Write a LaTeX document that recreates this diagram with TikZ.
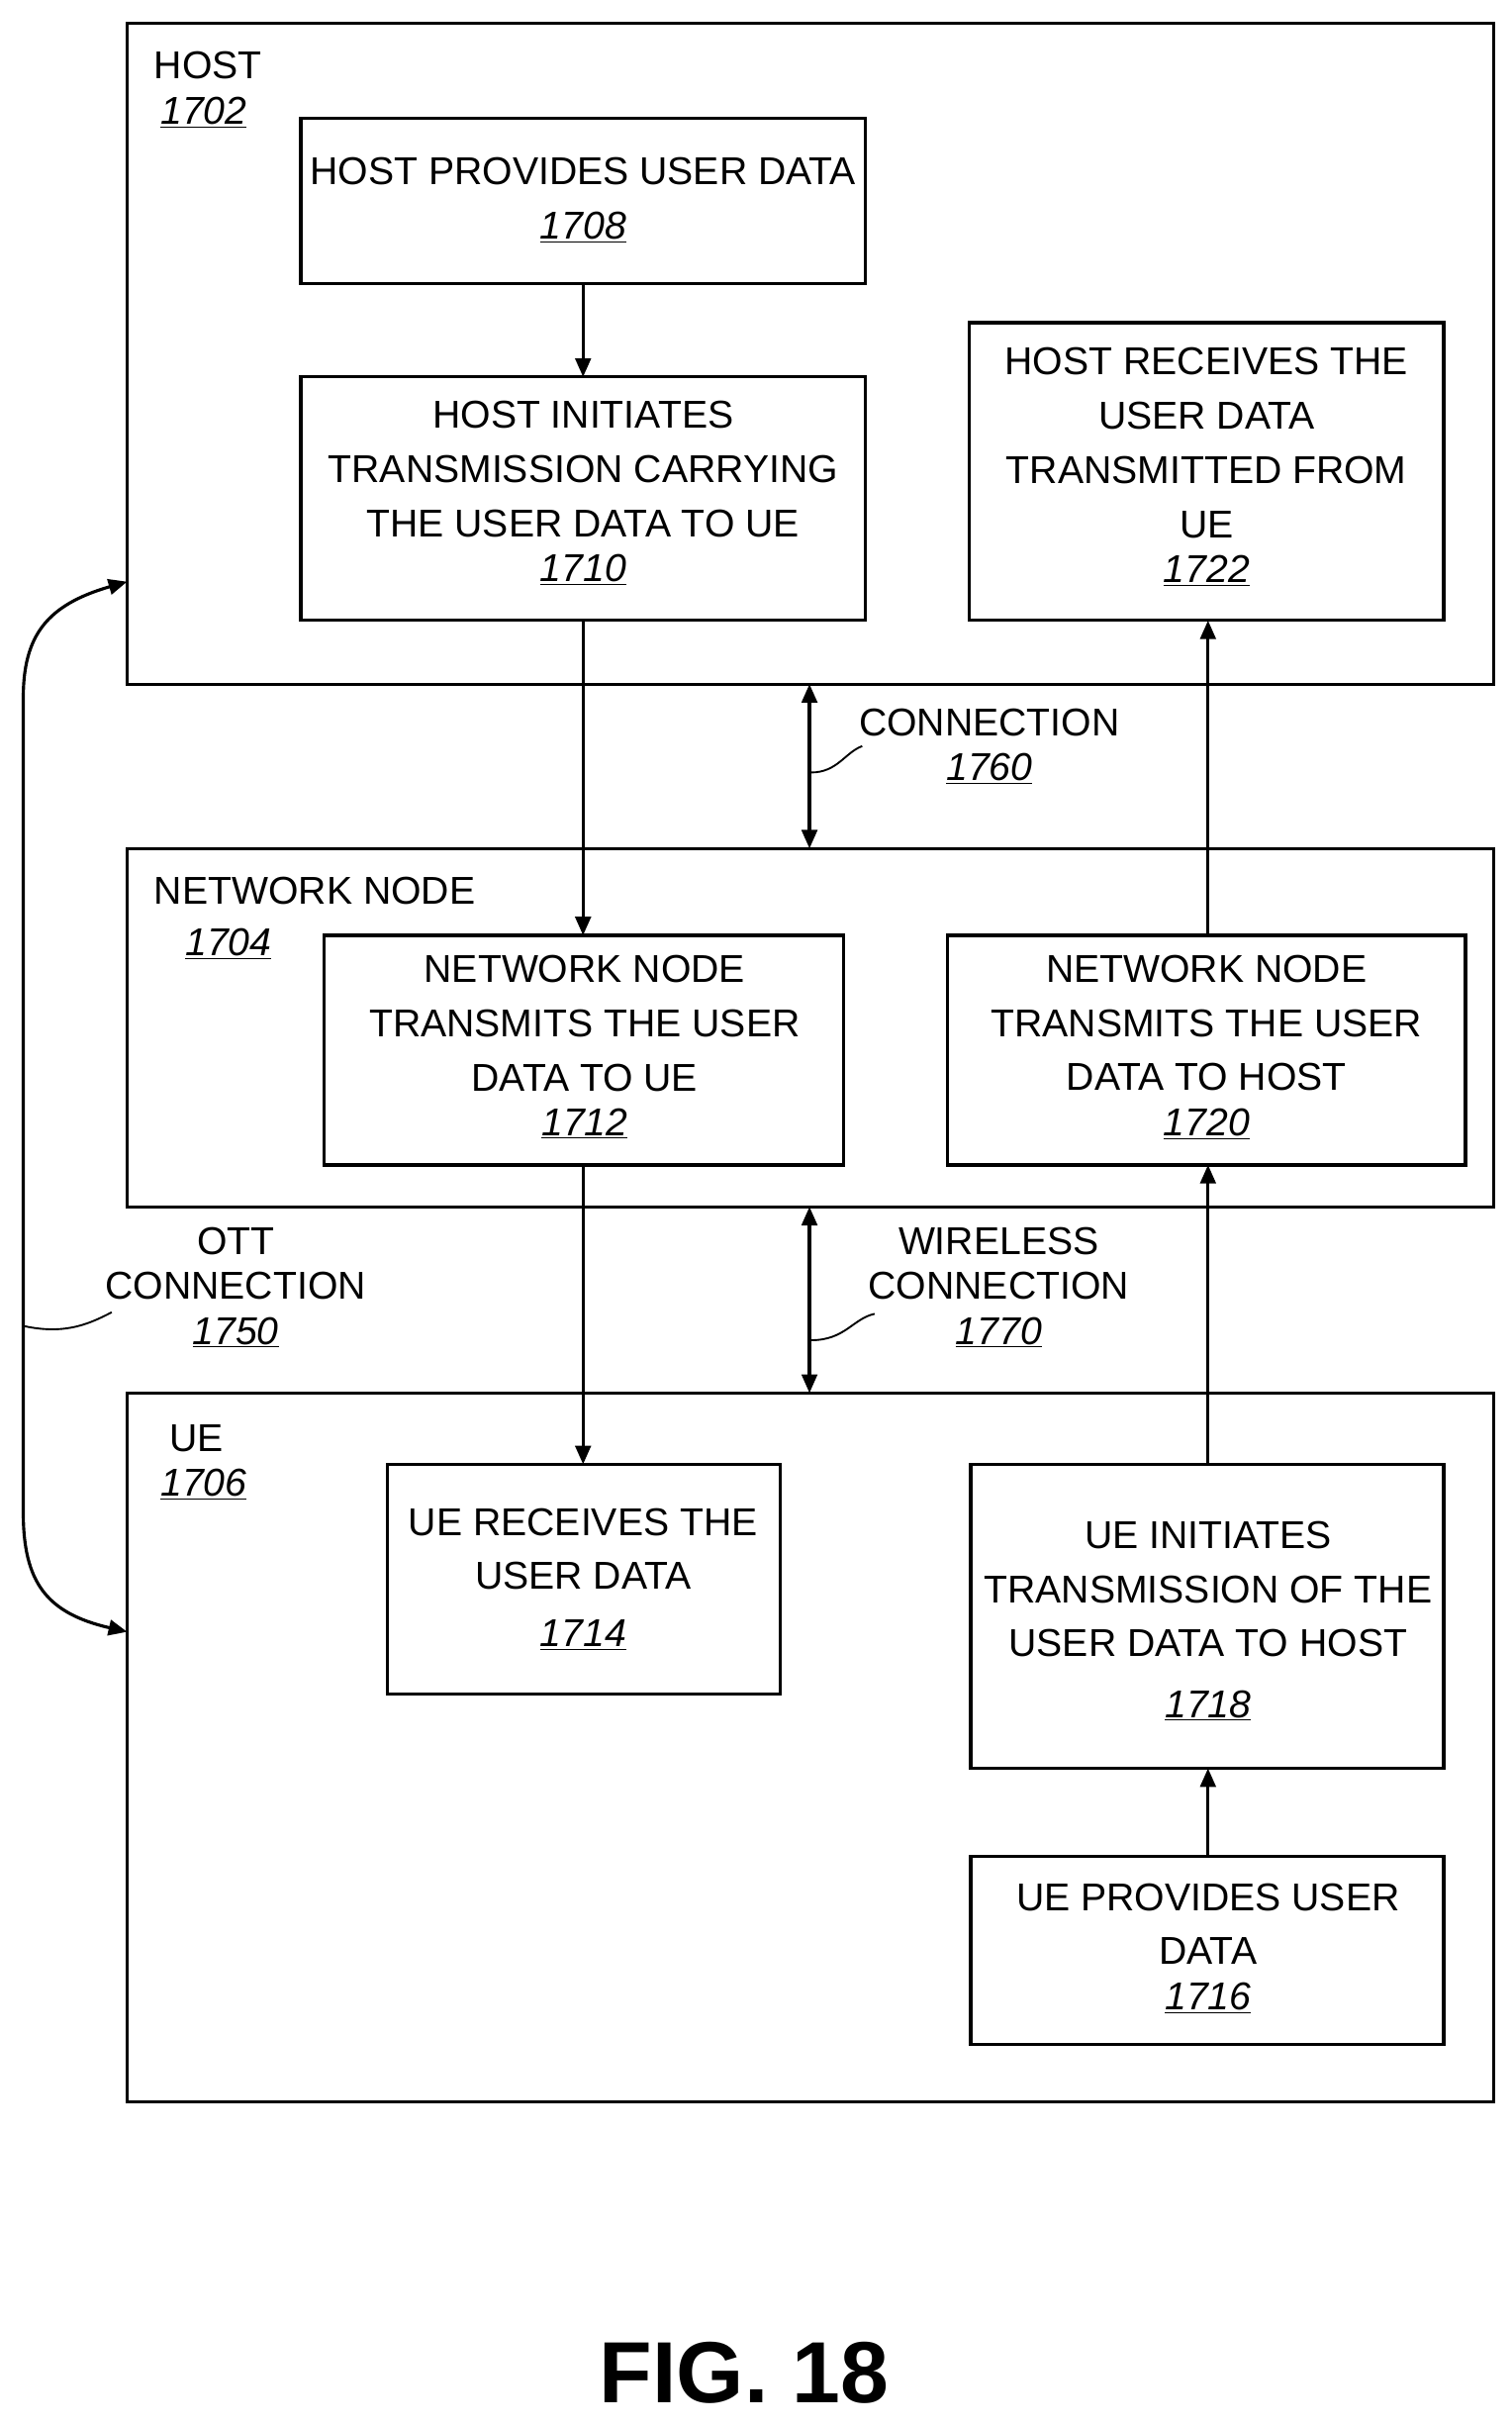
\documentclass[tikz,border=0pt]{standalone}
\usepackage{fontspec}
\setmainfont{Liberation Sans}
\usetikzlibrary{arrows.meta}
\newcommand{\nm}[1]{\underline{\textit{#1}}}
\begin{document}
\begin{tikzpicture}[x=1pt,y=-1pt,
  box/.style={draw,line width=2pt,inner sep=0pt},
  stp/.style={align=center,font=\fontsize{25}{35}\selectfont},
  lbl/.style={align=left,font=\fontsize{25}{33}\selectfont},
  arr/.style={line width=2pt,-{Triangle[length=12pt,width=10pt]}},
  darr/.style={line width=2pt,{Triangle[length=12pt,width=10pt]}-{Triangle[length=12pt,width=10pt]}}]
\useasboundingbox (0,0) rectangle (975,1564);
% containers
\draw[box] (82,15) rectangle (963,441);
\draw[box] (82,547) rectangle (963,778);
\draw[box] (82,898) rectangle (963,1355);
\node[lbl,anchor=north west] (hl) at (96,30) {HOST\\[-4pt]\hspace*{4pt}\nm{1702}};
\node[lbl,anchor=north west] (nl) at (96,562) {NETWORK NODE\\[0pt]\hspace*{20pt}\nm{1704}};
\node[lbl,anchor=north west] (ul) at (100,915) {\hspace*{6pt}UE\\[-4pt]\nm{1706}};
% step boxes
\draw[box] (194,76) rectangle (558,183);
\node[stp] (b1708) at (376,129) {HOST PROVIDES USER DATA\\\nm{1708}};
\draw[box] (194,243) rectangle (558,400);
\node[stp] (b1710) at (376,318) {HOST INITIATES\\TRANSMISSION CARRYING\\THE USER DATA TO UE\\[-6pt]\nm{1710}};
\draw[box] (625,208) rectangle (931,400);
\node[stp] (b1722) at (778,301) {HOST RECEIVES THE\\USER DATA\\TRANSMITTED FROM\\UE\\[-6pt]\nm{1722}};
\draw[box] (209,603) rectangle (544,751);
\node[stp] (b1712) at (377,675) {NETWORK NODE\\TRANSMITS THE USER\\DATA TO UE\\[-6pt]\nm{1712}};
\draw[box] (611,603) rectangle (945,751);
\node[stp] (b1720) at (778,675) {NETWORK NODE\\TRANSMITS THE USER\\DATA TO HOST\\[-6pt]\nm{1720}};
\draw[box] (250,944) rectangle (503,1092);
\node[stp] (b1714) at (376,1018) {UE RECEIVES THE\\USER DATA\\[2pt]\nm{1714}};
\draw[box] (626,944) rectangle (931,1140);
\node[stp] (b1718) at (779,1045) {UE INITIATES\\TRANSMISSION OF THE\\USER DATA TO HOST\\[4pt]\nm{1718}};
\draw[box] (626,1197) rectangle (931,1318);
\node[stp] (b1716) at (779,1256) {UE PROVIDES USER\\DATA\\[-6pt]\nm{1716}};
% coordinates
\coordinate (a1) at (376,183); \coordinate (a2) at (376,243);
\coordinate (a3) at (376,400); \coordinate (a4) at (376,603);
\coordinate (a5) at (376,751); \coordinate (a6) at (376,944);
\coordinate (c1) at (779,1197); \coordinate (c2) at (779,1140);
\coordinate (c3) at (779,944); \coordinate (c4) at (779,751);
\coordinate (c5) at (779,603); \coordinate (c6) at (779,400);
\draw[arr] (a1) -- (a2); \draw[arr] (a3) -- (a4); \draw[arr] (a5) -- (a6);
\draw[arr] (c1) -- (c2); \draw[arr] (c3) -- (c4); \draw[arr] (c5) -- (c6);
% connections
\coordinate (k1) at (522,441); \coordinate (k2) at (522,547);
\coordinate (w1) at (522,778); \coordinate (w2) at (522,898);
\draw[darr] (k1) -- (k2); \draw[darr] (w1) -- (w2);
\node[stp] (conn) at (638,481) {CONNECTION\\[-6pt]\nm{1760}};
\draw[line width=1.2pt] (523,498) .. controls (540,498) and (545,485) .. (556,481);
\node[stp] (wl) at (644,830) {WIRELESS\\[-6pt]CONNECTION\\[-6pt]\nm{1770}};
\draw[line width=1.2pt] (523,864) .. controls (545,864) and (550,850) .. (564,847);
% OTT
\coordinate (o1) at (82,375); \coordinate (o2) at (82,1052);
\draw[darr] (o1) .. controls (30,390) and (15,410) .. (15,450) -- (15,975) .. controls (15,1020) and (30,1040) .. (o2);
\node[stp] (ott) at (152,830) {OTT\\[-6pt]CONNECTION\\[-6pt]\nm{1750}};
\draw[line width=1.2pt] (16,855) .. controls (40,860) and (55,855) .. (72,846);
\node[font=\fontsize{56}{60}\selectfont\bfseries] (fig) at (480,1530) {FIG. 18};
\end{tikzpicture}
\end{document}
